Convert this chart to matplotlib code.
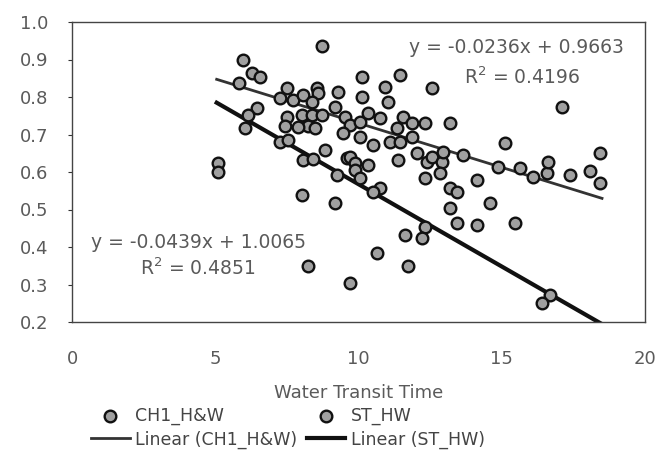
import matplotlib
matplotlib.use("Agg")
import matplotlib.pyplot as plt
import numpy as np

# --- data -------------------------------------------------------------
ch1_x = [5.83, 5.97, 6.28, 6.56, 6.46, 7.50, 7.26, 7.71, 8.06, 8.55, 8.59, 8.38,
         7.50, 8.03, 8.38, 8.73, 8.24, 8.48, 8.73, 9.28, 9.18, 9.53, 9.70, 10.05,
         10.12, 10.12, 10.33, 10.75, 11.03, 10.92, 11.45, 12.57, 11.55, 11.87, 12.32,
         11.34, 13.19, 9.46, 10.05, 10.51, 11.10, 11.45, 11.87, 11.38, 12.04, 12.39,
         12.57, 12.91, 12.95, 13.65, 12.84, 12.32, 13.19, 13.44, 14.14, 14.59, 15.11,
         17.10, 14.87, 15.64, 16.09, 16.58, 16.61, 17.38, 18.08, 18.43, 18.43]
ch1_y = [0.837, 0.899, 0.864, 0.853, 0.771, 0.824, 0.797, 0.792, 0.805, 0.824, 0.811, 0.787,
         0.747, 0.752, 0.752, 0.752, 0.723, 0.717, 0.936, 0.813, 0.773, 0.747, 0.725, 0.733,
         0.800, 0.853, 0.757, 0.744, 0.787, 0.827, 0.859, 0.824, 0.747, 0.731, 0.731,
         0.717, 0.731, 0.704, 0.693, 0.672, 0.680, 0.680, 0.693, 0.632, 0.651, 0.627,
         0.640, 0.627, 0.653, 0.645, 0.597, 0.584, 0.557, 0.547, 0.579, 0.517, 0.677,
         0.773, 0.613, 0.611, 0.587, 0.597, 0.627, 0.592, 0.603, 0.651, 0.571]

st_x = [5.10, 5.10, 6.04, 6.14, 7.26, 7.54, 7.43, 7.89, 8.06, 8.41, 8.83, 8.03,
        9.18, 8.24, 9.25, 9.60, 9.70, 9.88, 10.33, 9.88, 10.05, 10.75, 10.51, 13.19,
        13.44, 14.14, 12.32, 11.62, 12.22, 10.65, 11.73, 9.70, 15.46, 16.68, 16.40]
st_y = [0.624, 0.600, 0.717, 0.752, 0.680, 0.685, 0.723, 0.720, 0.632, 0.635, 0.659, 0.539,
        0.517, 0.349, 0.592, 0.637, 0.640, 0.624, 0.619, 0.605, 0.584, 0.557, 0.547, 0.504,
        0.464, 0.459, 0.453, 0.432, 0.424, 0.384, 0.349, 0.304, 0.464, 0.272, 0.251]

ch1_fit = [-0.0236, 0.9663]
ch1_r2 = 0.4196
st_fit = [-0.0439, 1.0065]
st_r2 = 0.4851
fit_range = [5.05, 18.5]

x_ticks = [0, 5, 10, 15, 20]
y_ticks = [0.2, 0.3, 0.4, 0.5, 0.6, 0.7, 0.8, 0.9, 1.0]

# --- figure -----------------------------------------------------------
fig = plt.figure(figsize=(6.58, 4.59), dpi=100)
ax = fig.add_axes([72 / 658, 1 - 322 / 459, (645 - 72) / 658, (322 - 22) / 459])

txt = '#5a5a5a'
mk = dict(s=70, facecolor='#a0a0a0', edgecolor='#111111', linewidths=1.7, zorder=3)
ax.scatter(ch1_x, ch1_y, label='CH1_H&W', **mk)
ax.scatter(st_x, st_y, label='ST_HW', **mk)

xf = np.linspace(fit_range[0], fit_range[1], 50)
ax.plot(xf, np.polyval(ch1_fit, xf), color='#333333', lw=2.0, zorder=2,
        label='Linear (CH1_H&W)')
ax.plot(xf, np.polyval(st_fit, xf), color='#111111', lw=3.0, zorder=2,
        label='Linear (ST_HW)')

ax.set_xlim(0, 20)
ax.set_ylim(0.2, 1.0)
ax.set_xticks(x_ticks)
ax.set_yticks(y_ticks)
ax.set_xticklabels([str(v) for v in x_ticks])
ax.set_yticklabels([f'{v:.1f}' for v in y_ticks])
ax.tick_params(axis='both', labelsize=13, colors='#333333', labelcolor=txt,
               length=3, direction='out')
ax.tick_params(axis='x', pad=20, length=0)
ax.tick_params(axis='y', pad=14)
for s in ax.spines.values():
    s.set_color('#444444')
    s.set_linewidth(1.0)

ax.set_xlabel('Water Transit Time', fontsize=13, color=txt, labelpad=12)

fs = 13.5
ax.text(0.775, 0.915, f'y = {ch1_fit[0]:.4f}x + {ch1_fit[1]:.4f}', transform=ax.transAxes,
        ha='center', va='center', fontsize=fs, color=txt)
ax.text(0.785, 0.815, f'R$^2$ = {ch1_r2:.4f}', transform=ax.transAxes,
        ha='center', va='center', fontsize=fs, color=txt)
ax.text(0.22, 0.265, f'y = {st_fit[0]:.4f}x + {st_fit[1]:.4f}', transform=ax.transAxes,
        ha='center', va='center', fontsize=fs, color=txt)
ax.text(0.22, 0.18, f'R$^2$ = {st_r2:.4f}', transform=ax.transAxes,
        ha='center', va='center', fontsize=fs, color=txt)

h, l = ax.get_legend_handles_labels()
order = [0, 2, 1, 3]
leg = fig.legend([h[i] for i in order], [l[i] for i in order], ncol=2,
                 loc='upper center', bbox_to_anchor=(288 / 658, 1 - 400 / 459),
                 frameon=False, fontsize=12.5, handlelength=2.2, handletextpad=0.3,
                 columnspacing=0.6, labelspacing=0.3, borderaxespad=0)
for t in leg.get_texts():
    t.set_color('#444444')

fig.savefig('out.png', dpi=100, facecolor='white')
